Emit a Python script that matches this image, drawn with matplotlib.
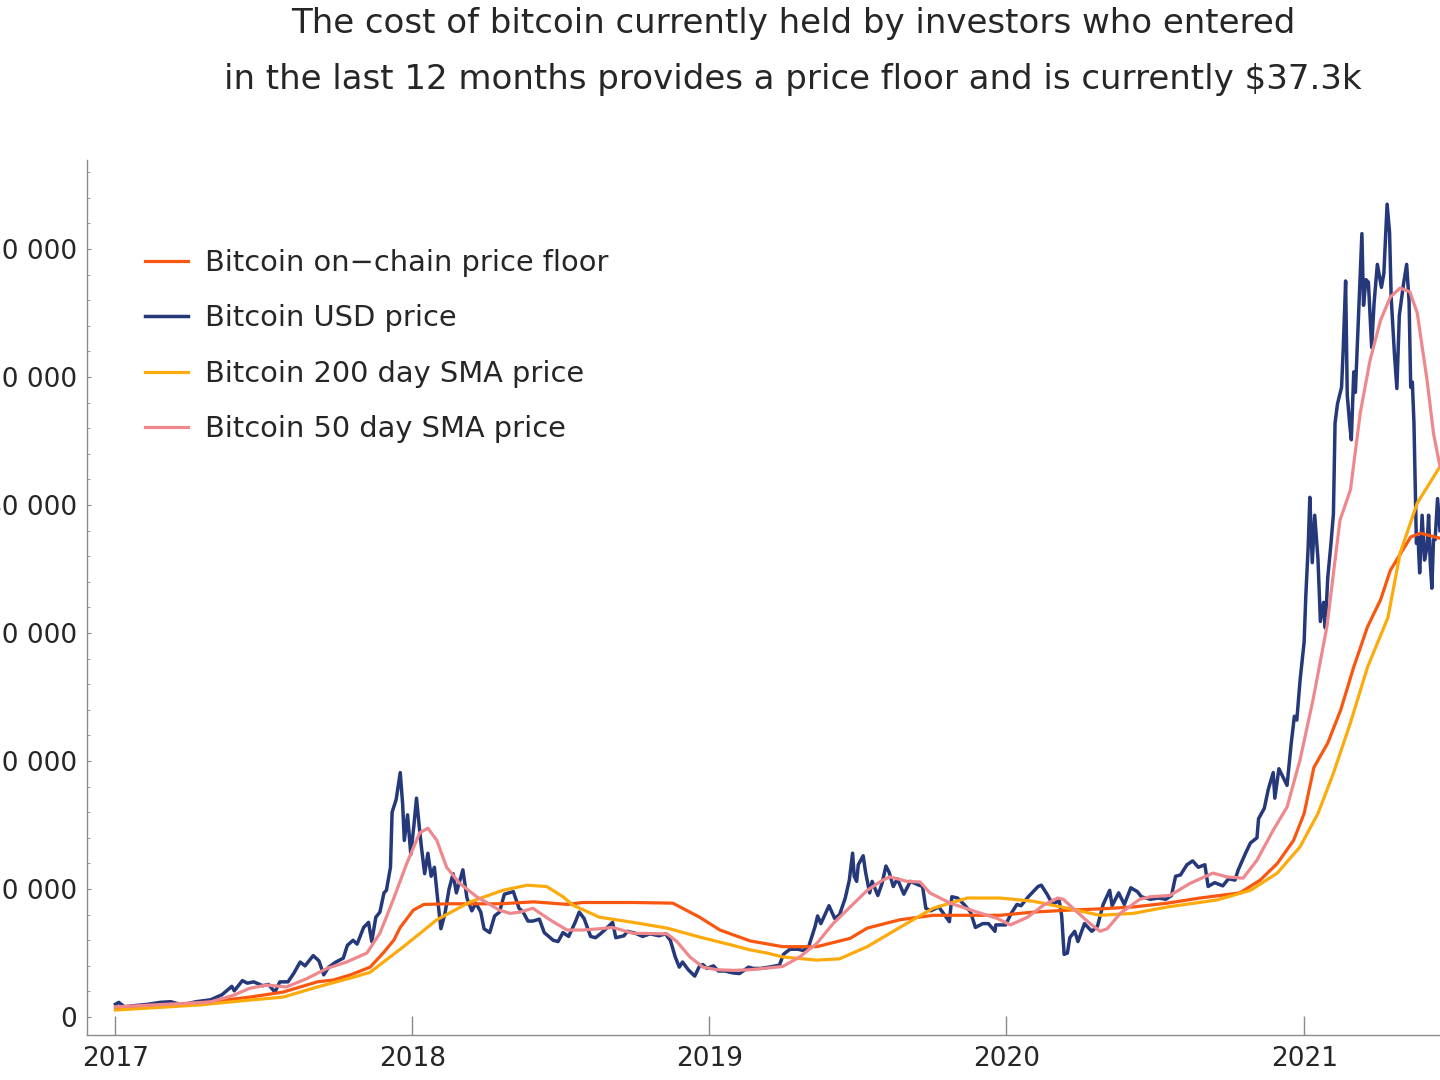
import numpy as np
import pandas as pd
import matplotlib
matplotlib.use("Agg")
import matplotlib.pyplot as plt
import matplotlib.dates as mdates
from matplotlib.ticker import MultipleLocator, FuncFormatter

plt.rcParams['font.family'] = ['DejaVu Sans']

# Bitcoin USD price
price_dates = [
    "2017-01-01", "2017-01-05", "2017-01-12", "2017-01-25", "2017-02-10", "2017-02-25",
    "2017-03-10", "2017-03-24", "2017-04-10", "2017-04-28", "2017-05-12", "2017-05-24",
    "2017-05-27", "2017-06-06", "2017-06-12", "2017-06-20", "2017-07-01", "2017-07-08",
    "2017-07-16", "2017-07-22", "2017-08-01", "2017-08-08", "2017-08-16", "2017-08-22",
    "2017-09-01", "2017-09-08", "2017-09-14", "2017-09-20", "2017-09-29", "2017-10-08",
    "2017-10-13", "2017-10-20", "2017-10-25", "2017-11-02", "2017-11-08", "2017-11-12",
    "2017-11-17", "2017-11-22", "2017-11-27", "2017-11-30", "2017-12-05", "2017-12-07",
    "2017-12-12", "2017-12-17", "2017-12-20", "2017-12-22", "2017-12-26", "2017-12-30",
    "2018-01-03", "2018-01-06", "2018-01-10", "2018-01-12", "2018-01-16", "2018-01-20",
    "2018-01-24", "2018-01-28", "2018-02-01", "2018-02-05", "2018-02-10", "2018-02-15",
    "2018-02-20", "2018-02-24", "2018-03-04", "2018-03-09", "2018-03-15", "2018-03-20",
    "2018-03-26", "2018-03-30", "2018-04-06", "2018-04-12", "2018-04-18", "2018-04-24",
    "2018-05-05", "2018-05-12", "2018-05-17", "2018-05-23", "2018-05-29", "2018-06-06",
    "2018-06-12", "2018-06-23", "2018-06-29", "2018-07-05", "2018-07-12", "2018-07-20",
    "2018-07-25", "2018-07-31", "2018-08-08", "2018-08-14", "2018-08-20", "2018-08-27",
    "2018-09-04", "2018-09-08", "2018-09-18", "2018-09-22", "2018-10-02", "2018-10-11",
    "2018-10-20", "2018-10-31", "2018-11-08", "2018-11-14", "2018-11-20", "2018-11-25",
    "2018-11-29", "2018-12-06", "2018-12-14", "2018-12-20", "2018-12-24", "2018-12-29",
    "2019-01-06", "2019-01-12", "2019-01-20", "2019-01-30", "2019-02-07", "2019-02-18",
    "2019-02-24", "2019-03-05", "2019-03-15", "2019-03-28", "2019-04-02", "2019-04-10",
    "2019-04-20", "2019-04-26", "2019-05-03", "2019-05-11", "2019-05-14", "2019-05-18",
    "2019-05-28", "2019-06-04", "2019-06-10", "2019-06-17", "2019-06-22", "2019-06-26",
    "2019-06-28", "2019-07-01", "2019-07-03", "2019-07-09", "2019-07-12", "2019-07-17",
    "2019-07-20", "2019-07-27", "2019-08-01", "2019-08-06", "2019-08-10", "2019-08-15",
    "2019-08-20", "2019-08-28", "2019-09-05", "2019-09-14", "2019-09-20", "2019-09-24",
    "2019-09-30", "2019-10-10", "2019-10-23", "2019-10-26", "2019-11-02", "2019-11-10",
    "2019-11-18", "2019-11-24", "2019-12-03", "2019-12-10", "2019-12-18", "2019-12-19",
    "2019-12-31", "2020-01-07", "2020-01-14", "2020-01-19", "2020-01-28", "2020-02-09",
    "2020-02-13", "2020-02-20", "2020-02-27", "2020-03-06", "2020-03-09", "2020-03-12",
    "2020-03-16", "2020-03-19", "2020-03-25", "2020-03-29", "2020-04-06", "2020-04-15",
    "2020-04-22", "2020-04-29", "2020-05-07", "2020-05-10", "2020-05-18", "2020-05-25",
    "2020-06-02", "2020-06-10", "2020-06-15", "2020-06-26", "2020-07-06", "2020-07-15",
    "2020-07-22", "2020-07-27", "2020-08-02", "2020-08-10", "2020-08-17", "2020-08-24",
    "2020-09-01", "2020-09-05", "2020-09-13", "2020-09-23", "2020-09-30", "2020-10-08",
    "2020-10-12", "2020-10-21", "2020-10-27", "2020-11-04", "2020-11-06", "2020-11-13",
    "2020-11-18", "2020-11-24", "2020-11-26", "2020-12-01", "2020-12-11", "2020-12-16",
    "2020-12-20", "2020-12-23", "2020-12-27", "2021-01-01", "2021-01-03", "2021-01-06",
    "2021-01-08", "2021-01-11", "2021-01-14", "2021-01-18", "2021-01-21", "2021-01-25",
    "2021-01-27", "2021-01-30", "2021-02-03", "2021-02-06", "2021-02-08", "2021-02-11",
    "2021-02-14", "2021-02-16", "2021-02-18", "2021-02-21", "2021-02-23", "2021-02-26",
    "2021-02-28", "2021-03-03", "2021-03-05", "2021-03-09", "2021-03-13", "2021-03-15",
    "2021-03-18", "2021-03-21", "2021-03-25", "2021-03-28", "2021-04-01", "2021-04-06",
    "2021-04-09", "2021-04-13", "2021-04-16", "2021-04-18", "2021-04-22", "2021-04-25",
    "2021-04-28", "2021-05-03", "2021-05-07", "2021-05-10", "2021-05-12", "2021-05-14",
    "2021-05-16", "2021-05-19", "2021-05-21", "2021-05-23", "2021-05-26", "2021-05-29",
    "2021-06-01", "2021-06-03", "2021-06-05", "2021-06-07", "2021-06-09", "2021-06-11",
    "2021-06-14", "2021-06-17",
]
price_usd = [
    1000, 1150, 800, 900, 1000, 1150,
    1200, 950, 1200, 1350, 1750, 2400,
    2050, 2850, 2650, 2750, 2450, 2550,
    1950, 2750, 2750, 3400, 4300, 4000,
    4800, 4400, 3300, 3900, 4300, 4600,
    5600, 6000, 5700, 7000, 7400, 5900,
    7800, 8200, 9700, 9900, 11700, 16000,
    17000, 19100, 16600, 13800, 15800, 12700,
    15100, 17100, 14500, 13300, 11200, 12800,
    11000, 11700, 9200, 6900, 8100, 10000,
    11200, 9700, 11500, 9300, 8300, 8900,
    8200, 6900, 6600, 7900, 8200, 9600,
    9800, 8500, 8200, 7500, 7500, 7650,
    6600, 6000, 5900, 6600, 6300, 7400,
    8200, 7700, 6300, 6200, 6500, 6900,
    7400, 6200, 6350, 6700, 6550, 6300,
    6500, 6350, 6500, 6000, 4700, 3900,
    4300, 3700, 3200, 4000, 4100, 3800,
    4000, 3600, 3600, 3450, 3400, 3900,
    3800, 3800, 3900, 4050, 4900, 5300,
    5300, 5200, 5500, 7100, 7900, 7300,
    8700, 7700, 8000, 9300, 10700, 12800,
    11000, 10600, 11900, 12600, 11300, 9700,
    10600, 9500, 10400, 11800, 11300, 10200,
    10800, 9600, 10600, 10350, 10200, 8500,
    8300, 8600, 7450, 9400, 9300, 8800,
    8200, 7000, 7300, 7300, 6700, 7200,
    7200, 8100, 8800, 8700, 9400, 10200,
    10300, 9600, 8800, 9100, 7900, 4900,
    5000, 6200, 6700, 5900, 7300, 6700,
    7100, 8800, 9900, 8700, 9700, 8800,
    10100, 9800, 9400, 9200, 9300, 9200,
    9500, 11000, 11100, 11900, 12200, 11700,
    11900, 10200, 10500, 10250, 10800, 10700,
    11500, 12800, 13600, 14000, 15500, 16300,
    17800, 19100, 17100, 19400, 18100, 21300,
    23500, 23200, 26300, 29300, 32800, 36800,
    40600, 35500, 39200, 35800, 30900, 32400,
    30400, 34300, 37000, 39300, 46400, 47900,
    48700, 49200, 52100, 57500, 48600, 46300,
    45100, 50400, 48800, 54900, 61200, 55600,
    57600, 57400, 52300, 55800, 58800, 57000,
    58100, 63500, 61300, 56200, 51800, 49100,
    54800, 57200, 58800, 55900, 49200, 49600,
    46400, 37000, 37500, 34700, 39200, 35700,
    36700, 39200, 35500, 33500, 37300, 37300,
    40500, 38000,
]

# Bitcoin on-chain price floor
floor_dates = [
    "2017-01-01", "2017-04-15", "2017-06-15", "2017-07-26", "2017-09-06", "2017-09-26",
    "2017-10-17", "2017-11-10", "2017-11-26", "2017-12-09", "2017-12-17", "2018-01-02",
    "2018-01-15", "2018-02-17", "2018-04-19", "2018-05-30", "2018-07-11", "2018-07-29",
    "2018-09-29", "2018-11-17", "2018-12-20", "2019-01-14", "2019-02-20", "2019-04-01",
    "2019-05-13", "2019-06-23", "2019-07-14", "2019-08-23", "2019-10-03", "2019-11-14",
    "2019-12-24", "2020-02-03", "2020-03-16", "2020-04-25", "2020-06-05", "2020-07-17",
    "2020-08-26", "2020-10-14", "2020-11-08", "2020-11-29", "2020-12-19", "2021-01-01",
    "2021-01-13", "2021-01-30", "2021-02-15", "2021-03-03", "2021-03-20", "2021-04-05",
    "2021-04-17", "2021-05-12", "2021-05-24", "2021-06-17",
]
floor_usd = [
    700, 1100, 1560, 1950, 2750, 2900,
    3300, 3900, 5000, 6000, 7000, 8350,
    8800, 8850, 8850, 9000, 8800, 8950,
    8950, 8900, 7800, 6800, 5950, 5500,
    5500, 6150, 6950, 7600, 7950, 7950,
    7950, 8200, 8350, 8450, 8600, 8900,
    9300, 9700, 10700, 12000, 13800, 15900,
    19500, 21400, 24000, 27350, 30500, 32600,
    34900, 37500, 37800, 37400,
]

# Bitcoin 200 day SMA price
sma200_dates = [
    "2017-01-01", "2017-04-15", "2017-06-15", "2017-07-26", "2017-09-06", "2017-10-17",
    "2017-11-10", "2017-12-21", "2018-01-31", "2018-03-13", "2018-04-22", "2018-05-22",
    "2018-06-15", "2018-07-05", "2018-07-17", "2018-08-19", "2018-09-29", "2018-11-10",
    "2018-12-20", "2019-01-30", "2019-02-20", "2019-03-13", "2019-04-01", "2019-05-13",
    "2019-06-10", "2019-07-14", "2019-08-23", "2019-10-03", "2019-11-14", "2019-12-24",
    "2020-02-03", "2020-03-16", "2020-04-25", "2020-06-05", "2020-07-17", "2020-09-16",
    "2020-10-27", "2020-11-29", "2020-12-27", "2021-01-18", "2021-02-06", "2021-02-27",
    "2021-03-20", "2021-04-14", "2021-04-29", "2021-05-20", "2021-06-17",
]
sma200_usd = [
    550, 950, 1330, 1560, 2350, 3050,
    3500, 5500, 7600, 9000, 9900, 10300,
    10200, 9400, 8750, 7800, 7400, 6950,
    6250, 5600, 5250, 5000, 4700, 4450,
    4550, 5500, 7000, 8500, 9300, 9300,
    9050, 8500, 7950, 8100, 8600, 9150,
    9900, 11250, 13300, 15900, 19050, 23000,
    27350, 31200, 36250, 40150, 43000,
]

# Bitcoin 50 day SMA price
sma50_dates = [
    "2017-01-01", "2017-03-05", "2017-04-27", "2017-05-26", "2017-06-15", "2017-07-06",
    "2017-07-30", "2017-08-24", "2017-09-18", "2017-10-12", "2017-11-06", "2017-11-22",
    "2017-12-08", "2017-12-25", "2018-01-10", "2018-01-20", "2018-01-31", "2018-02-12",
    "2018-02-28", "2018-03-21", "2018-04-18", "2018-05-01", "2018-05-13", "2018-05-29",
    "2018-06-19", "2018-07-10", "2018-07-29", "2018-08-19", "2018-09-04", "2018-09-29",
    "2018-11-10", "2018-11-22", "2018-12-08", "2018-12-24", "2019-01-10", "2019-01-30",
    "2019-02-20", "2019-04-01", "2019-04-22", "2019-05-13", "2019-06-02", "2019-06-23",
    "2019-07-14", "2019-08-02", "2019-08-11", "2019-09-01", "2019-09-17", "2019-09-29",
    "2019-10-24", "2019-11-26", "2019-12-21", "2020-01-06", "2020-01-27", "2020-02-16",
    "2020-03-04", "2020-03-11", "2020-03-28", "2020-04-13", "2020-04-25", "2020-05-04",
    "2020-05-20", "2020-06-13", "2020-06-26", "2020-07-20", "2020-08-14", "2020-09-11",
    "2020-09-28", "2020-10-18", "2020-11-04", "2020-11-24", "2020-12-11", "2020-12-27",
    "2021-01-12", "2021-01-29", "2021-02-14", "2021-02-27", "2021-03-11", "2021-03-23",
    "2021-04-05", "2021-04-17", "2021-04-29", "2021-05-11", "2021-05-20", "2021-06-01",
    "2021-06-09", "2021-06-17",
]
sma50_usd = [
    800, 1000, 1170, 1700, 2250, 2500,
    2350, 3000, 3800, 4300, 5000, 6550,
    9100, 12000, 14400, 14750, 13800, 11700,
    10450, 9400, 8350, 8100, 8200, 8500,
    7600, 6800, 6800, 6900, 7000, 6550,
    6500, 5900, 4700, 3900, 3700, 3650,
    3700, 3950, 4700, 5750, 7300, 8600,
    9900, 10700, 10950, 10600, 10550, 9700,
    8900, 8200, 7700, 7200, 7800, 8750,
    9300, 9200, 8200, 7300, 6700, 6900,
    8100, 9200, 9400, 9500, 10450, 11250,
    10950, 10850, 12250, 14600, 16400, 20100,
    24800, 30500, 38800, 41200, 47200, 51300,
    54450, 56250, 56950, 56650, 55000, 49800,
    45600, 43000,
]

y_ticks = [0, 10000, 20000, 30000, 40000, 50000, 60000]
x_ticks = ["2017-01-01", "2018-01-01", "2019-01-01", "2020-01-01", "2021-01-01"]
x_ticklabels = ["2017", "2018", "2019", "2020", "2021"]

title_1 = "The cost of bitcoin currently held by investors who entered"
title_2 = "in the last 12 months provides a price floor and is currently $37.3k"

col_floor = "#F9560F"
col_price = "#24387A"
col_200 = "#FDAA0C"
col_50 = "#EF888D"
txt = "#262626"
axis_col = "#8a8a8a"

fig = plt.figure(figsize=(14.4, 10.8), dpi=100)
ax = fig.add_axes([87 / 1440, 45 / 1080, 1 - 87 / 1440, 875 / 1080])

l_price, = ax.plot(pd.to_datetime(price_dates), price_usd, color=col_price, lw=2.5,
                   label="Bitcoin USD price", zorder=2)
l_floor, = ax.plot(pd.to_datetime(floor_dates), floor_usd, color=col_floor, lw=2.3,
                   label="Bitcoin on\u2212chain price floor", zorder=3)
l_200, = ax.plot(pd.to_datetime(sma200_dates), sma200_usd, color=col_200, lw=2.3,
                 label="Bitcoin 200 day SMA price", zorder=3)
l_50, = ax.plot(pd.to_datetime(sma50_dates), sma50_usd, color=col_50, lw=2.3,
                label="Bitcoin 50 day SMA price", zorder=4)

ax.set_xlim(pd.Timestamp("2016-11-27"), pd.Timestamp("2021-06-17"))
ax.set_ylim(-1400, 66950)

ax.set_yticks(y_ticks)
ax.yaxis.set_major_formatter(FuncFormatter(lambda v, p: "{:,.0f}".format(v).replace(",", " ")))
ax.yaxis.set_minor_locator(MultipleLocator(2000))
ax.set_xticks(pd.to_datetime(x_ticks))
ax.set_xticklabels(x_ticklabels)

for s in ["top", "right"]:
    ax.spines[s].set_visible(False)
for s in ["left", "bottom"]:
    ax.spines[s].set_color(axis_col)
    ax.spines[s].set_linewidth(1.0)

ax.tick_params(axis="y", which="major", direction="in", length=3, width=0.8,
               color=axis_col, labelsize=19, labelcolor=txt, pad=7)
ax.tick_params(axis="y", which="minor", direction="in", length=2, width=0.6, color=axis_col)
ax.tick_params(axis="x", which="major", direction="in", length=14, width=1.0,
               color=axis_col, labelsize=19, labelcolor=txt, pad=8)

fig.legend(handles=[l_floor, l_price, l_200, l_50], loc="upper left",
           bbox_to_anchor=(145 / 1440, 1 - 249 / 1080), frameon=False,
           fontsize=20.8, labelcolor=txt, handlelength=1.5, handletextpad=0.58,
           labelspacing=0.95, borderpad=0, borderaxespad=0)

fig.text(793 / 1440, 1 - 23 / 1080, title_1, ha="center", va="center", fontsize=24.5, color=txt)
fig.text(793 / 1440, 1 - 79 / 1080, title_2, ha="center", va="center", fontsize=24.5, color=txt)

fig.savefig("out.png", dpi=100)
